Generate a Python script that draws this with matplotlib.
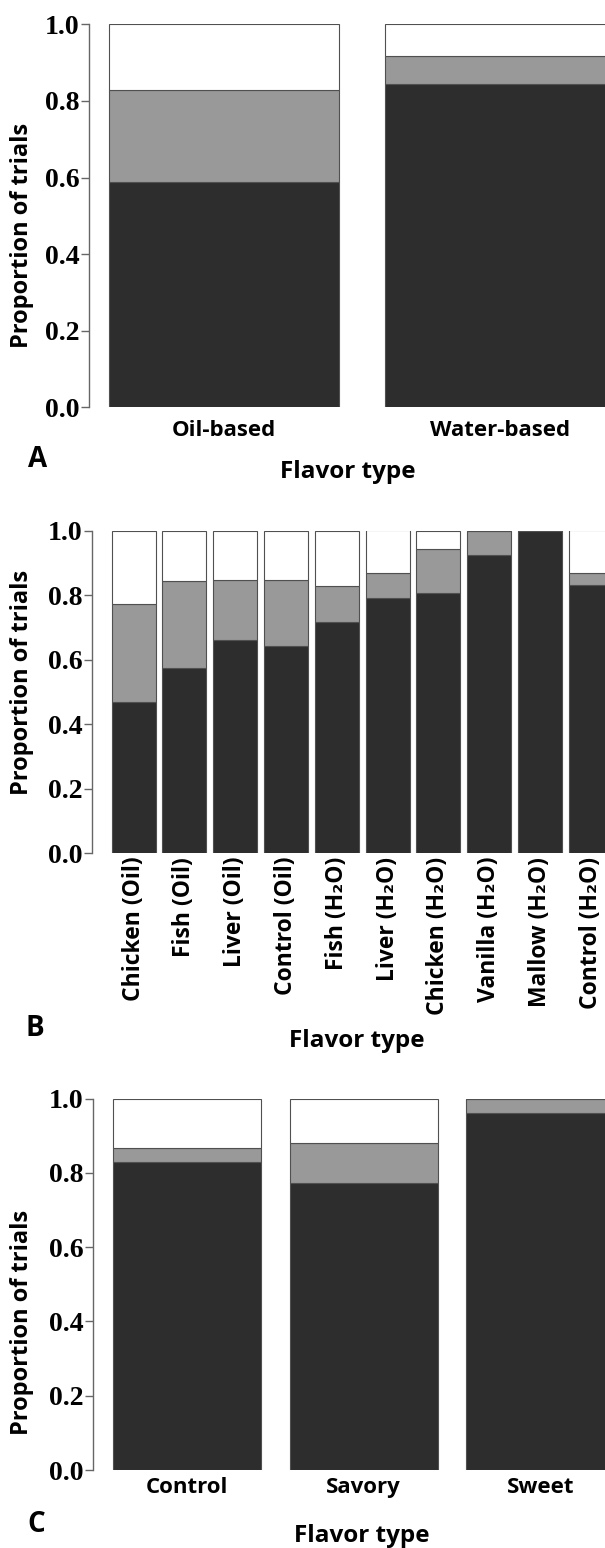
import matplotlib
matplotlib.use("Agg")
import matplotlib.pyplot as plt
import numpy as np

# panel A
a_cats = ["Oil-based", "Water-based"]
a_black = [0.587, 0.845]
a_top = [0.828, 0.917]

# panel B
b_cats = ["Chicken (Oil)", "Fish (Oil)", "Liver (Oil)", "Control (Oil)",
          "Fish (H₂O)", "Liver (H₂O)", "Chicken (H₂O)", "Vanilla (H₂O)",
          "Mallow (H₂O)", "Control (H₂O)"]
b_black = [0.470, 0.575, 0.660, 0.641, 0.716, 0.791, 0.805, 0.924, 1.0, 0.830]
b_top = [0.771, 0.845, 0.848, 0.848, 0.829, 0.867, 0.942, 1.0, 1.0, 0.867]

# panel C
c_cats = ["Control", "Savory", "Sweet"]
c_black = [0.828, 0.772, 0.962]
c_top = [0.868, 0.879, 1.0]

yticks = [0.0, 0.2, 0.4, 0.6, 0.8, 1.0]

W, H = 605, 1548
LABEL_FONT = ["Open Sans", "DejaVu Sans"]
TICK_FONT = ["Liberation Serif", "DejaVu Serif"]
DARK = "#2d2d2d"
GREY = "#999999"
EDGE = "#505050"

fig = plt.figure(figsize=(W / 100, H / 100), dpi=100)


def px_axes(left, top, bottom):
    # pixel box -> figure fraction
    return fig.add_axes([left / W, 1 - bottom / H, 1 - left / W, (bottom - top) / H])


def draw_panel(ax, cats, black, top, width, xlim, rot, tick_pad):
    x = np.arange(len(cats))
    black = np.array(black)
    top = np.array(top)
    grey = top - black
    white = 1 - top
    ax.bar(x, black, width, color=DARK, edgecolor=EDGE, linewidth=0.8)
    ax.bar(x, grey, width, bottom=black, color=GREY, edgecolor=EDGE, linewidth=0.8)
    ax.bar(x, white, width, bottom=top, color="white", edgecolor=EDGE, linewidth=0.8)
    ax.set_xlim(*xlim)
    ax.set_ylim(0, 1)
    for s in ["top", "right", "bottom"]:
        ax.spines[s].set_visible(False)
    ax.spines["left"].set_color("#666666")
    ax.spines["left"].set_linewidth(1.0)
    ax.set_yticks(yticks)
    ax.set_yticklabels([f"{v:.1f}" for v in yticks], family=TICK_FONT,
                       fontweight="bold", fontsize=20)
    ax.tick_params(axis="y", length=5.5, width=1.0, color="#666666", pad=1.5)
    ax.set_xticks(x)
    ax.set_xticklabels(cats, rotation=rot, family=LABEL_FONT, fontweight="bold",
                       fontsize=16 if rot == 0 else 16.5)
    ax.tick_params(axis="x", length=0, pad=tick_pad)


def labels(ax, left, top, bottom, ylab_center, xlab_x, xlab_y, letter, lx, ly):
    ax.set_ylabel("Proportion of trials", family=LABEL_FONT, fontweight="bold", fontsize=17)
    ax.yaxis.set_label_coords((34 - left) / (W - left), (bottom - ylab_center) / (bottom - top))
    fig.text(xlab_x / W, 1 - xlab_y / H, "Flavor type", family=LABEL_FONT,
             fontweight="bold", fontsize=17.5, ha="center", va="center")
    fig.text(lx / W, 1 - ly / H, letter, family=LABEL_FONT, fontweight="bold",
             fontsize=20, ha="center", va="center")


axA = px_axes(89.3, 24.3, 407.3)
draw_panel(axA, a_cats, a_black, a_top, 0.833, (-0.488, 1.380), 0, 9)
labels(axA, 89.3, 24.3, 407.3, 235, 348, 472, "A", 38, 459)

axB = px_axes(92, 530.5, 853.3)
draw_panel(axB, b_cats, b_black, b_top, 0.866, (-0.821, 9.28), 90, 2.5)
labels(axB, 92, 530.5, 853.3, 682, 357, 1041, "B", 35, 1029)

axC = px_axes(93.3, 1098.5, 1470)
draw_panel(axC, c_cats, c_black, c_top, 0.838, (-0.533, 2.367), 0, 5)
labels(axC, 93.3, 1098.5, 1470, 1322, 362, 1536, "C", 36, 1525)

fig.savefig("out.png", dpi=100)
